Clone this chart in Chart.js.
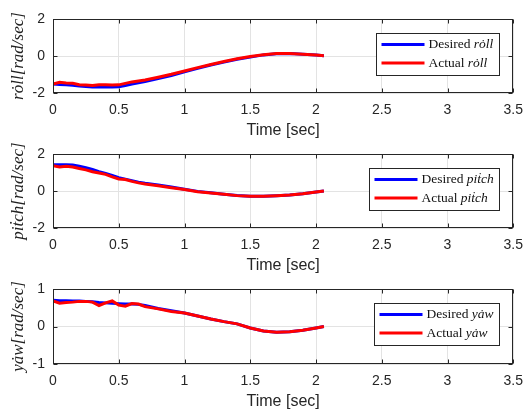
<!DOCTYPE html>
<html>
<head>
<meta charset="utf-8">
<script src="https://cdn.jsdelivr.net/npm/chart.js@4/dist/chart.umd.min.js"></script>
<style>
  body { margin: 0; background: #fff; }
  #wrap { width: 532px; height: 414px; position: relative; }
  canvas { display: block; position: absolute; left: 0; }
</style>
</head>
<body>
<div id="wrap">
  <canvas id="cRoll" width="532" height="140" style="top:0px"></canvas>
  <canvas id="cPitch" width="532" height="140" style="top:135px"></canvas>
  <canvas id="cYaw" width="532" height="144" style="top:270px"></canvas>
</div>
<script>
"use strict";
// time samples (sec)
const time = [0, 0.05, 0.1, 0.15, 0.2, 0.25, 0.3, 0.35, 0.4, 0.45, 0.5, 0.55, 0.6, 0.65, 0.7,
    0.8, 0.9, 1.0, 1.1, 1.2, 1.3, 1.4, 1.5, 1.6, 1.7, 1.8, 1.9, 2.0, 2.06];

const rollDesired = [-1.52, -1.54, -1.56, -1.58, -1.62, -1.65, -1.68, -1.68, -1.68, -1.68, -1.66, -1.6, -1.52, -1.45, -1.38,
    -1.22, -1.05, -0.86, -0.67, -0.49, -0.33, -0.18, -0.06, 0.06, 0.12, 0.13, 0.1, 0.05, 0.02];
const rollActual = [-1.52, -1.42, -1.46, -1.47, -1.55, -1.57, -1.6, -1.56, -1.55, -1.57, -1.56, -1.48, -1.4, -1.35, -1.3,
    -1.15, -0.99, -0.81, -0.63, -0.46, -0.3, -0.15, -0.03, 0.07, 0.13, 0.13, 0.1, 0.05, 0.02];

const pitchDesired = [1.42, 1.42, 1.42, 1.4, 1.34, 1.26, 1.16, 1.05, 0.95, 0.84, 0.72, 0.64, 0.56, 0.48, 0.42,
    0.32, 0.22, 0.1, -0.02, -0.1, -0.17, -0.24, -0.28, -0.29, -0.26, -0.22, -0.15, -0.06, 0.0];
const pitchActual = [1.36, 1.3, 1.34, 1.3, 1.22, 1.14, 1.04, 0.97, 0.9, 0.76, 0.65, 0.62, 0.52, 0.44, 0.38,
    0.28, 0.18, 0.08, -0.04, -0.11, -0.18, -0.25, -0.29, -0.29, -0.26, -0.22, -0.15, -0.06, 0.0];

const yawDesired = [0.7, 0.69, 0.69, 0.68, 0.68, 0.67, 0.66, 0.64, 0.63, 0.62, 0.61, 0.6, 0.6, 0.59, 0.56,
    0.48, 0.42, 0.36, 0.28, 0.2, 0.13, 0.07, -0.04, -0.12, -0.15, -0.14, -0.1, -0.04, 0.0];
const yawActual = [0.68, 0.62, 0.64, 0.65, 0.67, 0.67, 0.65, 0.56, 0.63, 0.68, 0.57, 0.54, 0.61, 0.6, 0.53,
    0.47, 0.4, 0.36, 0.28, 0.2, 0.13, 0.07, -0.04, -0.12, -0.15, -0.14, -0.1, -0.04, 0.0];

const xTicks = [0, 0.5, 1, 1.5, 2, 2.5, 3, 3.5];

const axisColor = '#262626';
const gridColor = '#e3e3e3';

function toPoints(ys) {
    return ys.map((v, i) => ({x: time[i], y: v}));
}

// box, inner tick marks and the legend, drawn like the matlab axes
const boxPlugin = {
    id: 'box',
    afterDraw(chart, args, opts) {
        const ctx = chart.ctx;
        const a = chart.chartArea;
        const xs = chart.scales.x, ys = chart.scales.y;
        ctx.save();
        ctx.strokeStyle = axisColor;
        ctx.lineWidth = 1;
        const l = Math.round(a.left) + 0.5, r = Math.round(a.right) - 0.5;
        const t = Math.round(a.top) + 0.5, b = Math.round(a.bottom) - 0.5;
        ctx.beginPath();
        xs.ticks.forEach(tk => {
            const px = Math.round(xs.getPixelForValue(tk.value)) + 0.5;
            ctx.moveTo(px, b); ctx.lineTo(px, b - 4);
            ctx.moveTo(px, t); ctx.lineTo(px, t + 4);
        });
        ys.ticks.forEach(tk => {
            const py = Math.round(ys.getPixelForValue(tk.value)) + 0.5;
            ctx.moveTo(l, py); ctx.lineTo(l + 4, py);
            ctx.moveTo(r, py); ctx.lineTo(r - 4, py);
        });
        ctx.stroke();
        ctx.strokeRect(l, t, r - l, b - t);

        // legend (desired first, like the plot order)
        const ds = chart.data.datasets;
        const fontUp = '13.5px "Liberation Serif"';
        const fontIt = 'italic 13.5px "Liberation Serif"';
        let textW = 0;
        ds.forEach(d => {
            ctx.font = fontUp;
            let w = ctx.measureText(d.label[0]).width;
            ctx.font = fontIt;
            w += ctx.measureText(d.label[1]).width;
            textW = Math.max(textW, w);
        });
        const lineLen = 43;
        const boxW = Math.round(5 + lineLen + 4 + textW + 6);
        const boxH = 42;
        const bx = Math.round(a.right) - 14 - boxW + 0.5;
        const by = Math.round(a.top) + 14 + 0.5;
        ctx.fillStyle = '#fff';
        ctx.fillRect(bx, by, boxW, boxH);
        ctx.strokeStyle = axisColor;
        ctx.strokeRect(bx, by, boxW, boxH);
        ds.forEach((d, i) => {
            const cy = by + 11 + i * 18.5;
            ctx.strokeStyle = d.borderColor;
            ctx.lineWidth = 3;
            ctx.beginPath();
            ctx.moveTo(bx + 5, cy); ctx.lineTo(bx + 5 + lineLen, cy);
            ctx.stroke();
            ctx.fillStyle = '#111';
            ctx.textBaseline = 'middle';
            ctx.textAlign = 'left';
            let tx = bx + 5 + lineLen + 4;
            ctx.font = fontUp;
            ctx.fillText(d.label[0], tx, cy);
            tx += ctx.measureText(d.label[0]).width;
            ctx.font = fontIt;
            ctx.fillText(d.label[1], tx, cy);
        });
        ctx.restore();
    }
};

function makePanel(id, yTitle, name, desired, actual, yMin, yMax, yStep, padBottom) {
    const canvas = document.getElementById(id);
    const ctx = canvas.getContext('2d');
    const xHeight = canvas.height - 19 - padBottom - (yMax - yMin === 2 ? 75 : 74);
    return new Chart(ctx, {
        type: 'line',
        data: {
            datasets: [{
                label: ['Desired ', name],
                data: toPoints(desired),
                borderColor: '#0000ff',
                borderWidth: 3,
                pointRadius: 0,
                tension: 0,
                fill: false,
                order: 2
            }, {
                label: ['Actual ', name],
                data: toPoints(actual),
                borderColor: '#ff0000',
                borderWidth: 3,
                pointRadius: 0,
                tension: 0,
                fill: false,
                order: 1
            }]
        },
        options: {
            responsive: false,
            animation: false,
            events: [],
            layout: {padding: {top: 19, right: 11, left: 0, bottom: padBottom}},
            plugins: {legend: {display: false}, tooltip: {enabled: false}},
            scales: {
                x: {
                    type: 'linear',
                    min: 0,
                    max: 3.5,
                    afterBuildTicks: (s) => { s.ticks = xTicks.map(v => ({value: v})); },
                    afterFit: (s) => { s.height = xHeight; },
                    grid: {color: gridColor, drawTicks: false},
                    border: {display: false},
                    ticks: {
                        color: axisColor,
                        padding: 9,
                        maxRotation: 0,
                        callback: (v) => String(v),
                        font: {family: '"Liberation Sans"', size: 14}
                    },
                    title: {
                        display: true,
                        text: 'Time [sec]',
                        color: axisColor,
                        padding: {top: 0, bottom: 0},
                        font: {family: '"Liberation Sans"', size: 16, lineHeight: 1.2}
                    }
                },
                y: {
                    min: yMin,
                    max: yMax,
                    ticks: {
                        stepSize: yStep,
                        color: axisColor,
                        padding: 8,
                        callback: (v) => String(v),
                        font: {family: '"Liberation Sans"', size: 14}
                    },
                    afterFit: (s) => { s.width = 53; },
                    grid: {color: gridColor, drawTicks: false},
                    border: {display: false},
                    title: {
                        display: true,
                        text: yTitle,
                        color: '#222',
                        padding: {top: 8, bottom: 0},
                        font: {family: '"Liberation Serif"', size: 17, style: 'italic'}
                    }
                }
            }
        },
        plugins: [boxPlugin]
    });
}

makePanel('cRoll', 'ro\u0307ll[rad/sec]', 'ro\u0307ll', rollDesired, rollActual, -2, 2, 2, 0);
makePanel('cPitch', 'pit\u0307ch[rad/sec]', 'pit\u0307ch', pitchDesired, pitchActual, -2, 2, 2, 0);
makePanel('cYaw', 'ya\u0307w[rad/sec]', 'ya\u0307w', yawDesired, yawActual, -1, 1, 1, 3);
</script>
</body>
</html>
